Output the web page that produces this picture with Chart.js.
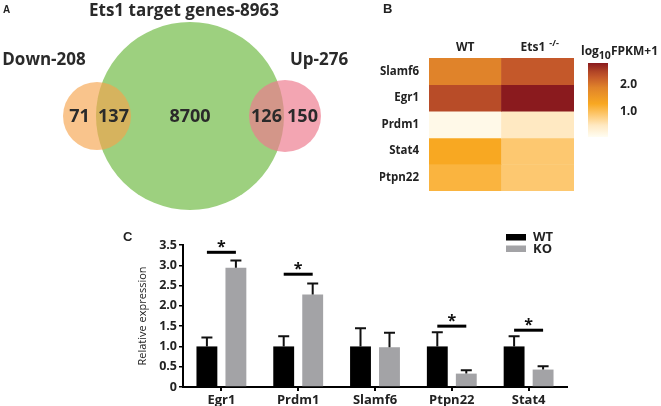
<!DOCTYPE html>
<html>
<head>
<meta charset="utf-8">
<script src="https://cdn.jsdelivr.net/npm/chart.js@4"></script>
<style>
body { margin: 0; background: #fff; }
#wrap { position: relative; width: 661px; height: 406px; overflow: hidden; }
canvas { position: absolute; }
.tag { position: absolute; font-family: 'Liberation Sans', Arial, sans-serif; font-weight: bold; color: #222; }
</style>
</head>
<body>
<div id="wrap">
  <canvas id="venn" width="380" height="215" style="left:0;top:0"></canvas>
  <canvas id="heat" width="200" height="200" style="left:380px;top:0"></canvas>
  <canvas id="heatScale" width="81" height="110" style="left:580px;top:40px"></canvas>
  <canvas id="qpcr" width="561" height="191" style="left:100px;top:215px"></canvas>
  <span class="tag" style="left:3px;top:4px;font-size:10px">A</span>
  <span class="tag" style="left:383px;top:1px;font-size:13px">B</span>
  <span class="tag" style="left:123px;top:229px;font-size:13px">C</span>
</div>
<script>
//Панель A - диаграмма Венна
const vennNames = ['Ets1 target genes', 'Down', 'Up'];
const vennTotals = [8963, 208, 276];
//Области: только Down, Down∩Ets1, только Ets1, Up∩Ets1, только Up
const vennRegions = [71, 137, 8700, 126, 150];
const vennX = [190, 97, 285];
const vennY = [116, 116, 116];
const vennR = [94, 34, 36];

//Панель B - тепловая карта
const heatGenes = ['Slamf6', 'Egr1', 'Prdm1', 'Stat4', 'Ptpn22'];
const heatGroups = ['WT', 'Ets1'];
const heatWT = [1.9, 2.42, 0.1, 1.3, 1.15];
const heatKO = [2.3, 2.81, 0.5, 0.9, 0.9];
const scaleRange = [0.07, 2.81];
const scaleTicks = [1.0, 2.0];

//Панель C - qPCR
const genes = ['Egr1', 'Prdm1', 'Slamf6', 'Ptpn22', 'Stat4'];
const wtMean = [1.0, 1.0, 1.0, 1.0, 1.0];
const wtErr = [0.22, 0.25, 0.45, 0.35, 0.25];
const koMean = [2.94, 2.28, 0.98, 0.33, 0.43];
const koErr = [0.18, 0.27, 0.36, 0.08, 0.08];
const sigLevel = [3.32, 2.78, null, 1.5, 1.4];

//Цветовая шкала log10FPKM+1
const cmapStops = [
    [0.0, '#fffdf2'], [0.5, '#ffe9c2'], [0.9, '#fdc870'], [1.3, '#f8a822'],
    [1.9, '#e0832a'], [2.3, '#c4582a'], [2.5, '#b04426'], [2.81, '#8a1a1e']
];

const FONT = '"Open Sans"';

function hexToRgb(h) {
    return [1, 3, 5].map(i => parseInt(h.substr(i, 2), 16));
}

function cmap(v) {
    if (v <= cmapStops[0][0]) return cmapStops[0][1];
    for (let i = 1; i < cmapStops.length; i++) {
        if (v <= cmapStops[i][0]) {
            const [v0, c0] = cmapStops[i - 1];
            const [v1, c1] = cmapStops[i];
            const t = (v - v0) / (v1 - v0);
            const a = hexToRgb(c0), b = hexToRgb(c1);
            const rgb = a.map((x, k) => Math.round(x + (b[k] - x) * t));
            return `rgb(${rgb.join(',')})`;
        }
    }
    return cmapStops[cmapStops.length - 1][1];
}

Chart.defaults.animation = false;
Chart.defaults.plugins.legend.display = false;
Chart.defaults.plugins.tooltip.enabled = false;
Chart.defaults.color = '#222';

// ---------- A ----------
const vennText = {
    id: 'vennText',
    afterDatasetsDraw(chart) {
        const { ctx, scales: { x, y } } = chart;
        const px = vennX.map(v => x.getPixelForValue(v));
        const py = vennY.map(v => y.getPixelForValue(v));
        const gL = px[0] - vennR[0], gR = px[0] + vennR[0];
        const dL = px[1] - vennR[1], dR = px[1] + vennR[1];
        const uL = px[2] - vennR[2], uR = px[2] + vennR[2];
        const cx = [(dL + gL) / 2, (gL + dR) / 2, px[0], (uL + gR) / 2, (gR + uR) / 2];

        ctx.save();
        ctx.fillStyle = '#2a2a2a';
        ctx.textAlign = 'center';
        ctx.textBaseline = 'middle';
        ctx.font = `bold 18px ${FONT}`;
        vennRegions.forEach((n, i) => ctx.fillText(String(n), cx[i], py[0] + 1));

        ctx.font = `bold 17px ${FONT}`;
        ctx.fillText(`${vennNames[0]}-${vennTotals[0]}`, px[0] - 6, 11);
        ctx.fillText(`${vennNames[1]}-${vennTotals[1]}`, px[1] - 53, py[1] - vennR[1] - 22);
        ctx.fillText(`${vennNames[2]}-${vennTotals[2]}`, px[2] + 34, py[2] - vennR[2] - 20);
        ctx.restore();
    }
};

new Chart(document.getElementById('venn'), {
    type: 'bubble',
    data: {
        datasets: [{
            data: vennX.map((v, i) => ({ x: v, y: vennY[i], r: vennR[i] })),
            backgroundColor: ['#9dd07f', 'rgba(246,163,75,0.64)', 'rgba(237,123,142,0.68)'],
            borderWidth: 0,
            clip: false
        }]
    },
    options: {
        responsive: false,
        layout: { padding: 0, autoPadding: false },
        scales: {
            x: { display: false, min: 0, max: 380 },
            y: { display: false, min: 0, max: 215, reverse: true }
        }
    },
    plugins: [vennText]
});

// ---------- B ----------
const heatHeaders = {
    id: 'heatHeaders',
    afterDraw(chart) {
        const { ctx, chartArea, scales: { x } } = chart;
        const y = chartArea.top - 10;
        ctx.save();
        ctx.fillStyle = '#222';
        ctx.textBaseline = 'middle';
        ctx.textAlign = 'center';
        ctx.font = `bold 12px ${FONT}`;
        ctx.fillText(heatGroups[0], x.getPixelForValue(0), y);

        const main = heatGroups[1];
        const sup = '-/-';
        const wMain = ctx.measureText(main).width;
        ctx.font = `bold 9px ${FONT}`;
        const wSup = ctx.measureText(sup).width;
        const start = x.getPixelForValue(1) - (wMain + 4 + wSup) / 2 + 2;
        ctx.textAlign = 'left';
        ctx.font = `bold 12px ${FONT}`;
        ctx.fillText(main, start, y);
        ctx.font = `bold 9px ${FONT}`;
        ctx.fillText(sup, start + wMain + 4, y - 5);
        ctx.restore();
    }
};

new Chart(document.getElementById('heat'), {
    type: 'bar',
    data: {
        labels: heatGroups,
        datasets: heatGenes.map((g, i) => ({
            label: g,
            data: [1, 1],
            backgroundColor: [cmap(heatWT[i]), cmap(heatKO[i])],
            borderWidth: 0,
            barPercentage: 1,
            categoryPercentage: 1
        }))
    },
    options: {
        responsive: false,
        layout: { padding: { left: 0, top: 58, right: 6, bottom: 7 } },
        scales: {
            x: { display: false, stacked: true },
            y: {
                stacked: true,
                reverse: true,
                min: 0,
                max: heatGenes.length,
                grid: { display: false },
                border: { display: false },
                afterFit: s => { s.width = 49; },
                afterBuildTicks: s => { s.ticks = heatGenes.map((g, i) => ({ value: i + 0.5 })); },
                ticks: {
                    padding: 2,
                    font: { family: 'Open Sans', weight: 'bold', size: 11.5 },
                    color: '#222',
                    callback: v => heatGenes[Math.floor(v)]
                }
            }
        }
    },
    plugins: [heatHeaders]
});

// шкала цвета
const scaleTitle = {
    id: 'scaleTitle',
    afterDraw(chart) {
        const { ctx } = chart;
        ctx.save();
        ctx.fillStyle = '#222';
        ctx.textBaseline = 'alphabetic';
        ctx.textAlign = 'left';
        ctx.font = `bold 12px ${FONT}`;
        let x = 1;
        ctx.fillText('log', x, 15);
        x += ctx.measureText('log').width;
        ctx.font = `bold 10.5px ${FONT}`;
        ctx.fillText('10', x, 19);
        x += ctx.measureText('10').width;
        ctx.font = `bold 12px ${FONT}`;
        ctx.fillText('FPKM+1', x, 15);
        ctx.restore();
    }
};

new Chart(document.getElementById('heatScale'), {
    type: 'bar',
    data: {
        labels: [''],
        datasets: [{
            data: [scaleRange],
            borderWidth: 0,
            barPercentage: 1,
            categoryPercentage: 1,
            backgroundColor: ctx => {
                const chart = ctx.chart;
                if (!chart.chartArea) return '#fff';
                const s = chart.scales.y;
                const g = chart.ctx.createLinearGradient(0, s.getPixelForValue(scaleRange[0]), 0, s.getPixelForValue(scaleRange[1]));
                cmapStops.forEach(([v, c]) => {
                    const t = (v - scaleRange[0]) / (scaleRange[1] - scaleRange[0]);
                    g.addColorStop(Math.min(1, Math.max(0, t)), c);
                });
                return g;
            }
        }]
    },
    options: {
        responsive: false,
        layout: { padding: { left: 8, top: 23, right: 8, bottom: 13 } },
        scales: {
            x: { display: false },
            y: {
                position: 'right',
                min: scaleRange[0],
                max: scaleRange[1],
                grid: { display: false },
                border: { display: false },
                afterFit: s => { s.width = 45; },
                afterBuildTicks: s => { s.ticks = scaleTicks.map(v => ({ value: v })); },
                ticks: {
                    padding: 4,
                    font: { family: 'Open Sans', weight: 'bold', size: 12 },
                    color: '#222',
                    callback: v => v.toFixed(1)
                }
            }
        }
    },
    plugins: [scaleTitle]
});

// ---------- C ----------
const qpcrExtras = {
    id: 'qpcrExtras',
    afterDatasetsDraw(chart) {
        const { ctx, chartArea, scales: { y } } = chart;
        ctx.save();
        //Планки погрешностей
        chart.data.datasets.forEach((ds, di) => {
            const meta = chart.getDatasetMeta(di);
            meta.data.forEach((bar, i) => {
                const top = y.getPixelForValue(ds.data[i]);
                const eTop = y.getPixelForValue(ds.data[i] + ds.errors[i]);
                ctx.strokeStyle = '#111';
                ctx.lineWidth = 2;
                ctx.beginPath();
                ctx.moveTo(bar.x, top);
                ctx.lineTo(bar.x, eTop);
                ctx.moveTo(bar.x - 5.5, eTop);
                ctx.lineTo(bar.x + 5.5, eTop);
                ctx.stroke();
            });
        });

        //Звездочки значимости
        const wt = chart.getDatasetMeta(0).data;
        const ko = chart.getDatasetMeta(1).data;
        sigLevel.forEach((lv, i) => {
            if (lv === null) return;
            const yy = y.getPixelForValue(lv);
            ctx.strokeStyle = '#000';
            ctx.lineWidth = 3;
            ctx.beginPath();
            ctx.moveTo(wt[i].x, yy);
            ctx.lineTo(ko[i].x, yy);
            ctx.stroke();
            ctx.fillStyle = '#111';
            ctx.font = `bold 16px ${FONT}`;
            ctx.textAlign = 'center';
            ctx.textBaseline = 'middle';
            ctx.fillText('*', (wt[i].x + ko[i].x) / 2, yy - 5);
        });

        //Легенда
        const lx = chartArea.right - 61;
        const ly = chartArea.top - 11;
        chart.data.datasets.forEach((ds, di) => {
            const by = ly + di * 11.5;
            ctx.fillStyle = ds.backgroundColor;
            ctx.fillRect(lx, by, 20, 6.5);
            ctx.fillStyle = '#222';
            ctx.font = `bold 13px ${FONT}`;
            ctx.textAlign = 'left';
            ctx.textBaseline = 'middle';
            ctx.fillText(ds.label, lx + 27, by + 3.5);
        });
        ctx.restore();
    }
};

new Chart(document.getElementById('qpcr'), {
    type: 'bar',
    data: {
        labels: genes,
        datasets: [
            { label: 'WT', data: wtMean, errors: wtErr, backgroundColor: '#000000' },
            { label: 'KO', data: koMean, errors: koErr, backgroundColor: '#a3a3a6' }
        ]
    },
    options: {
        responsive: false,
        categoryPercentage: 0.755,
        barPercentage: 0.72,
        layout: { padding: { left: 32, top: 30, right: 94, bottom: 0 } },
        scales: {
            x: {
                grid: { offset: false, drawOnChartArea: false, drawTicks: true, tickLength: 4, color: '#000', lineWidth: 2 },
                border: { display: true, color: '#000', width: 2 },
                afterFit: s => { s.height = 19; },
                ticks: {
                    padding: 1,
                    font: { family: 'Open Sans', weight: 'bold', size: 13 },
                    color: '#222'
                }
            },
            y: {
                min: 0,
                max: 3.5,
                afterFit: s => { s.width = 51; },
                grid: { drawOnChartArea: false, drawTicks: true, tickLength: 4, color: '#000', lineWidth: 1.5 },
                border: { display: true, color: '#000', width: 2 },
                ticks: {
                    stepSize: 0.5,
                    padding: 2,
                    font: { family: 'Open Sans', weight: 'bold', size: 12.5 },
                    color: '#222',
                    callback: v => v === 0 ? '0' : v.toFixed(1)
                },
                title: {
                    display: true,
                    text: 'Relative expression',
                    font: { family: 'Open Sans', size: 11 },
                    color: '#222'
                }
            }
        }
    },
    plugins: [qpcrExtras]
});
</script>
</body>
</html>
